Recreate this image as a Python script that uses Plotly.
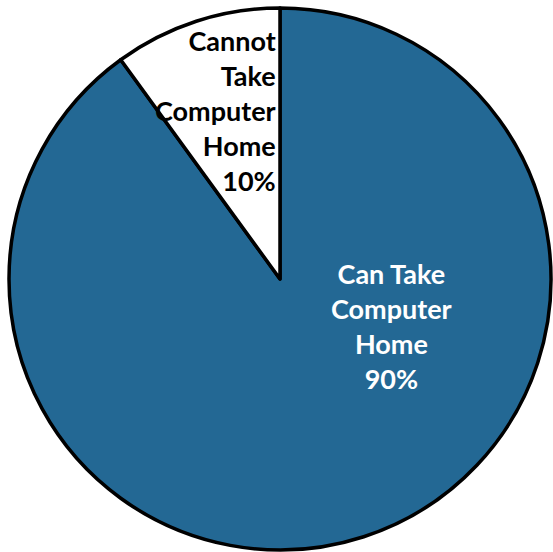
import plotly.graph_objects as go

labels = ["Can Take Computer Home", "Cannot Take Computer Home"]
values = [90, 10]
colors = ["#236894", "#FFFFFF"]

W, H = 553, 552
fig = go.Figure(go.Pie(
    labels=labels, values=values, sort=False, direction="clockwise", rotation=0,
    marker=dict(colors=colors, line=dict(color="#000000", width=3.5)),
    textinfo="none", hoverinfo="label+percent", showlegend=False,
    domain=dict(x=[9 / W, 551 / W], y=[1 - 550 / H, 1 - 8 / H]),
))

font_fam = "Lato, 'Open Sans', sans-serif"
fig.add_annotation(
    x=278 / W, y=1 - 110 / H, xref="paper", yref="paper", xanchor="right", yanchor="middle",
    text="<b>Cannot<br>Take<br>Computer<br>Home<br>10%</b>", align="right", showarrow=False,
    font=dict(family=font_fam, size=27, color="#000000"),
)
fig.add_annotation(
    x=391 / W, y=1 - 326 / H, xref="paper", yref="paper", xanchor="center", yanchor="middle",
    text="<b>Can Take<br>Computer<br>Home<br>90%</b>", align="center", showarrow=False,
    font=dict(family=font_fam, size=27, color="#FFFFFF"),
)

fig.update_layout(width=W, height=H, margin=dict(l=0, r=0, t=0, b=0),
                  paper_bgcolor="white", plot_bgcolor="white")
fig.write_html(
    "out.html",
    config={"displayModeBar": False},
    post_script="document.body.style.margin='0';document.body.style.overflow='hidden';"
                "document.documentElement.style.overflow='hidden';",
)
